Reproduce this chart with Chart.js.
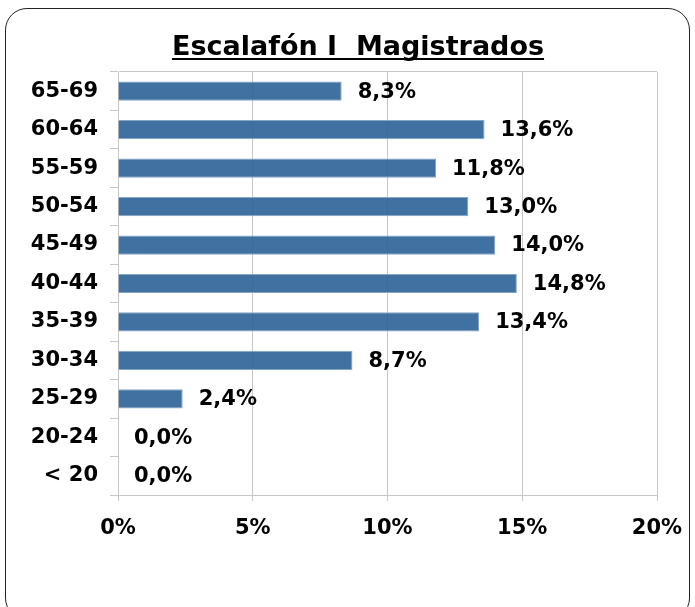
<!DOCTYPE html>
<html>
<head>
<meta charset="utf-8">
<script src="https://cdn.jsdelivr.net/npm/chart.js@4"></script>
<style>
    body { margin: 0; background: #fff; overflow: hidden; }
    #wrap { position: relative; width: 695px; height: 607px; }
    #frame {
        position: absolute; left: 5px; top: 8px; width: 683px; height: 610px;
        border: 1.5px solid #222; border-radius: 22px;
    }
    #barChart { position: absolute; left: 0; top: 0; }
</style>
</head>
<body>
<div id="wrap">
    <div id="frame"></div>
    <canvas id="barChart" width="695" height="607"></canvas>
</div>
<script>
// Age groups, top to bottom
const ageGroups = ['65-69', '60-64', '55-59', '50-54', '45-49', '40-44', '35-39', '30-34', '25-29', '20-24', '< 20'];
// Share of magistrates in each group (%)
const shares = [8.3, 13.6, 11.8, 13.0, 14.0, 14.8, 13.4, 8.7, 2.4, 0.0, 0.0];
const xTicks = [0, 5, 10, 15, 20];
const chartTitle = 'Escalafón I  Magistrados';

const gridGray = '#c6c6c6';
const fontFamily = "'DejaVu Sans', Verdana, sans-serif";

// value labels at the end of each bar, "8,3%"
const valueLabels = {
    id: 'valueLabels',
    afterDatasetsDraw(chart) {
        const ctx = chart.ctx;
        const meta = chart.getDatasetMeta(0);
        ctx.save();
        ctx.font = 'bold 21px ' + fontFamily;
        ctx.fillStyle = '#000';
        ctx.textAlign = 'left';
        ctx.textBaseline = 'middle';
        meta.data.forEach((bar, i) => {
            const txt = shares[i].toFixed(1).replace('.', ',') + '%';
            ctx.fillText(txt, bar.x + 16, bar.y + 1);
        });
        ctx.restore();
    }
};

// underlined title, a bit right of the canvas centre like the original
const underlinedTitle = {
    id: 'underlinedTitle',
    afterDraw(chart) {
        const ctx = chart.ctx;
        ctx.save();
        ctx.font = 'bold 27px ' + fontFamily;
        ctx.fillStyle = '#000';
        ctx.textAlign = 'center';
        ctx.textBaseline = 'alphabetic';
        const cx = 358;
        ctx.fillText(chartTitle, cx, 55);
        const w = ctx.measureText(chartTitle).width;
        ctx.fillRect(cx - w / 2, 58, w, 2);
        ctx.restore();
    }
};

const chart = new Chart(document.getElementById('barChart').getContext('2d'), {
    type: 'bar',
    data: {
        labels: ageGroups,
        datasets: [{
            data: shares,
            backgroundColor: 'rgba(44, 98, 150, 0.9)',
            borderColor: '#86a6c8',
            borderWidth: 1,
            barPercentage: 0.5,
            categoryPercentage: 1.0,
        }],
    },
    options: {
        indexAxis: 'y',
        responsive: false,
        animation: false,
        layout: { padding: { left: 0, right: 38, top: 72, bottom: 0 } },
        plugins: {
            legend: { display: false },
            tooltip: { enabled: false },
        },
        scales: {
            x: {
                min: 0,
                max: 20,
                afterBuildTicks: (scale) => { scale.ticks = xTicks.map(v => ({ value: v })); },
                afterFit: (scale) => {
                    scale.height = 112;
                    scale.paddingLeft = 0;
                    scale.paddingRight = 0;
                },
                grid: { color: gridGray, tickColor: gridGray, tickLength: 6 },
                border: { color: gridGray },
                ticks: {
                    color: '#000',
                    padding: 15,
                    font: { family: fontFamily, size: 21, weight: 'bold' },
                    callback: (v) => v + '%',
                },
            },
            y: {
                afterFit: (scale) => { scale.width = 118; },
                grid: {
                    color: (c) => c.index === 0 ? gridGray : 'transparent',
                    tickColor: gridGray,
                    tickLength: 8,
                },
                border: { color: gridGray },
                ticks: {
                    color: '#000',
                    padding: 12,
                    font: { family: fontFamily, size: 21, weight: 'bold' },
                },
            },
        },
    },
    plugins: [valueLabels, underlinedTitle],
});
</script>
</body>
</html>
